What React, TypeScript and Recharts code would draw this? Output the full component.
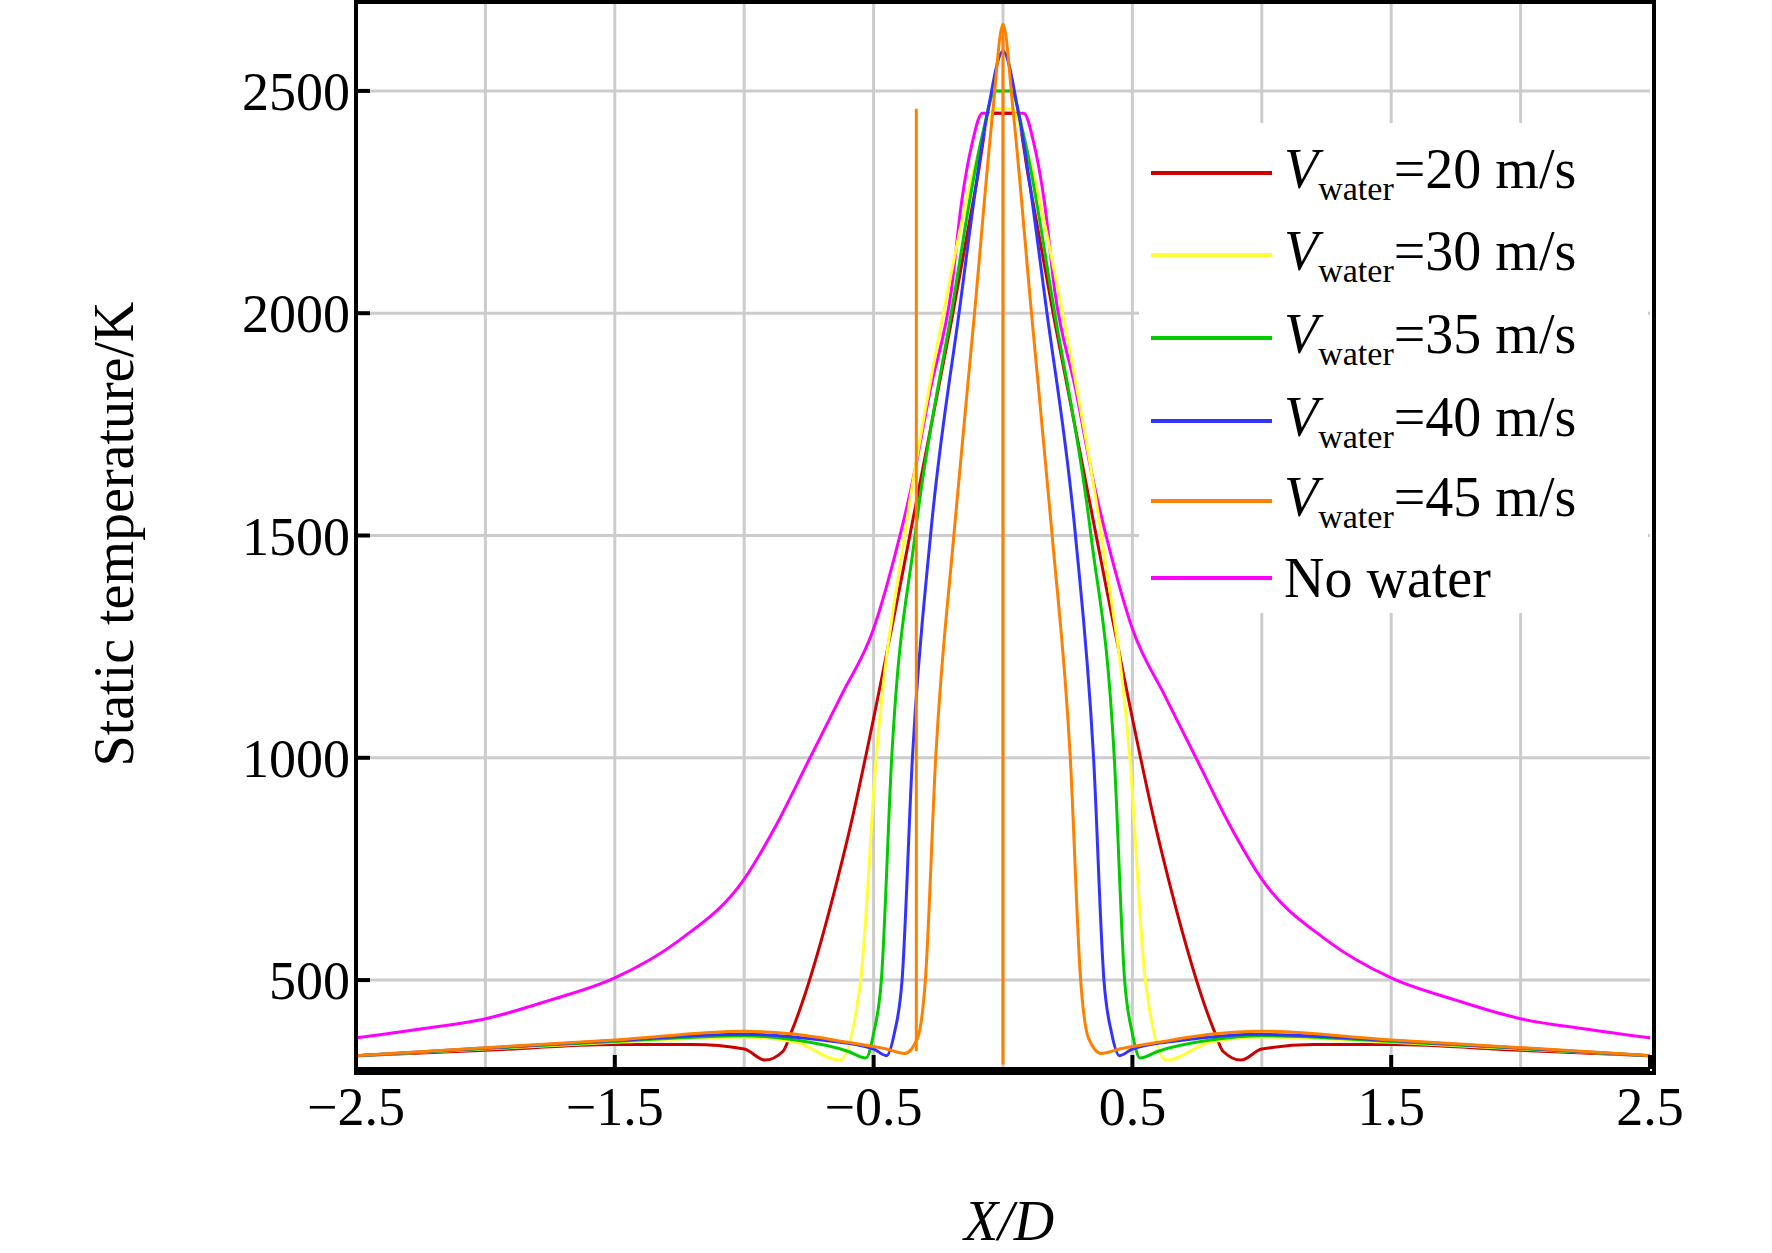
import { useEffect } from "react";
import { LineChart, Line, XAxis, YAxis, CartesianGrid } from "recharts";

const xTicks = [-2.5, -1.5, -0.5, 0.5, 1.5, 2.5];
const xGrid = [-2, -1.5, -1, -0.5, 0, 0.5, 1, 1.5, 2];
const yTicks = [500, 1000, 1500, 2000, 2500];

const redX = [-2.5, -2, -1.5, -1.2, -1, -0.92, -0.85, -0.82, -0.6, -0.4, -0.2, -0.1, -0.05, 0, 0.05, 0.1, 0.2, 0.4, 0.6, 0.82, 0.85, 0.92, 1, 1.2, 1.5, 2, 2.5];
const redY = [330, 342, 355, 355, 345, 320, 340, 380, 820, 1380, 1980, 2300, 2450, 2450, 2450, 2300, 1980, 1380, 820, 380, 340, 320, 345, 355, 355, 342, 330];

const yellowX = [-2.5, -2, -1.5, -1, -0.8, -0.63, -0.55, -0.49, -0.38, -0.23, -0.1, -0.03, 0, 0.03, 0.1, 0.23, 0.38, 0.49, 0.55, 0.63, 0.8, 1, 1.5, 2, 2.5];
const yellowY = [330, 345, 360, 372, 360, 320, 500, 1000, 1500, 2000, 2350, 2460, 2460, 2460, 2350, 2000, 1500, 1000, 500, 320, 360, 372, 360, 345, 330];

const greenX = [-2.5, -2, -1.5, -1, -0.8, -0.6, -0.53, -0.5, -0.47, -0.43, -0.34, -0.2, -0.08, -0.03, 0, 0.03, 0.08, 0.2, 0.34, 0.43, 0.47, 0.5, 0.53, 0.6, 0.8, 1, 1.5, 2, 2.5];
const greenY = [330, 346, 362, 375, 365, 340, 325, 380, 500, 1000, 1500, 2000, 2400, 2500, 2500, 2500, 2400, 2000, 1500, 1000, 500, 380, 325, 340, 365, 375, 362, 346, 330];

const blueX = [-2.5, -2, -1.5, -1, -0.7, -0.5, -0.45, -0.42, -0.39, -0.35, -0.28, -0.17, -0.06, 0, 0.06, 0.17, 0.28, 0.35, 0.39, 0.42, 0.45, 0.5, 0.7, 1, 1.5, 2, 2.5];
const blueY = [330, 347, 364, 378, 365, 345, 330, 380, 500, 1000, 1500, 2000, 2450, 2590, 2450, 2000, 1500, 1000, 500, 380, 330, 345, 365, 378, 364, 347, 330];

const orangeX = [-2.5, -2, -1.5, -1, -0.8, -0.6, -0.45, -0.38, -0.33, -0.3, -0.26, -0.19, -0.11, -0.04, 0, 0.04, 0.11, 0.19, 0.26, 0.3, 0.33, 0.38, 0.45, 0.6, 0.8, 1, 1.5, 2, 2.5];
const orangeY = [330, 348, 365, 385, 378, 360, 345, 335, 370, 500, 1000, 1500, 2000, 2450, 2650, 2450, 2000, 1500, 1000, 500, 370, 335, 345, 360, 378, 385, 365, 348, 330];

// stray vertical orange segments
const orangeBarX = [-0.335, -0.335];
const orangeBarY = [2460, 340];
const orangeSpikeX = [0, 0];
const orangeSpikeY = [2650, 310];

const magentaX = [-2.5, -2.25, -2, -1.75, -1.5, -1.25, -1, -0.875, -0.75, -0.625, -0.5, -0.42, -0.35, -0.28, -0.2, -0.16, -0.12, -0.08, 0, 0.08, 0.12, 0.16, 0.2, 0.28, 0.35, 0.42, 0.5, 0.625, 0.75, 0.875, 1, 1.25, 1.5, 1.75, 2, 2.25, 2.5];
const magentaY = [370, 390, 413, 455, 505, 590, 727, 850, 995, 1140, 1290, 1450, 1620, 1830, 2050, 2250, 2380, 2450, 2450, 2450, 2380, 2250, 2050, 1830, 1620, 1450, 1290, 1140, 995, 850, 727, 590, 505, 455, 413, 390, 370];

const zip = (xs: number[], ys: number[]) => xs.map((x, i) => ({ x, y: ys[i] }));

const series = [
  { name: "20", color: "#cc0000", data: zip(redX, redY) },
  { name: "30", color: "#ffff33", data: zip(yellowX, yellowY) },
  { name: "35", color: "#00cc00", data: zip(greenX, greenY) },
  { name: "40", color: "#3333ff", data: zip(blueX, blueY) },
  { name: "45", color: "#ff8000", data: zip(orangeX, orangeY) },
];

const legendItems = [
  { label: "20", color: "#cc0000" },
  { label: "30", color: "#ffff33" },
  { label: "35", color: "#00cc00" },
  { label: "40", color: "#3333ff" },
  { label: "45", color: "#ff8000" },
];

const font = "'Liberation Serif', 'Times New Roman', serif";

export default function App() {
  useEffect(() => {
    document.body.style.margin = "0";
  }, []);

  return (
    <div style={{ position: "relative", width: 1772, height: 1253, fontFamily: font, background: "#fff" }}>
      <LineChart width={1772} height={1253} margin={{ top: 2, right: 122, left: 0, bottom: 0 }}>
        <CartesianGrid stroke="#cccccc" strokeWidth={3} horizontalValues={yTicks} verticalValues={xGrid} />
        <XAxis
          type="number"
          dataKey="x"
          domain={[-2.5, 2.5]}
          ticks={xTicks}
          height={184}
          allowDataOverflow
          tickFormatter={(v: number) => (v < 0 ? "\u2212" + Math.abs(v) : String(v))}
          tick={{ fill: "#000", fontSize: 54, fontFamily: font, dy: 30 }}
          stroke="#000"
          strokeWidth={4}
          tickSize={-14}
        />
        <YAxis
          type="number"
          dataKey="y"
          domain={[300, 2700]}
          ticks={yTicks}
          width={356}
          allowDataOverflow
          tick={{ fill: "#000", fontSize: 54, fontFamily: font, dx: -18 }}
          stroke="#000"
          strokeWidth={4}
          tickSize={-14}
        />
        <Line type="monotone" data={zip(magentaX, magentaY)} dataKey="y" stroke="#ff00ff" strokeWidth={3} dot={false} isAnimationActive={false} />
        {series.map((s) => (
          <Line key={s.name} type="monotone" data={s.data} dataKey="y" stroke={s.color} strokeWidth={3} dot={false} isAnimationActive={false} />
        ))}
        <Line data={zip(orangeBarX, orangeBarY)} dataKey="y" stroke="#ff8000" strokeWidth={3} dot={false} isAnimationActive={false} />
        <Line data={zip(orangeSpikeX, orangeSpikeY)} dataKey="y" stroke="#ff8000" strokeWidth={3} dot={false} isAnimationActive={false} />
      </LineChart>

      {/* plot frame */}
      <div style={{ position: "absolute", left: 354, top: 0, width: 1294, height: 1067, border: "4px solid #000", pointerEvents: "none" }} />

      {/* legend */}
      <div style={{ position: "absolute", left: 1139, top: 123, width: 509, height: 490, background: "#fff" }}>
        {legendItems.map((it, i) => (
          <div key={it.label} style={{ position: "absolute", left: 12, top: 10 + [0, 82, 165, 248, 328][i], display: "flex", alignItems: "center", height: 80 }}>
            <div style={{ width: 121, height: 4, background: it.color }} />
            <span style={{ fontSize: 56, marginLeft: 12, whiteSpace: "nowrap" }}>
              <i>V</i>
              <sub style={{ fontSize: 34 }}>water</sub>=<span>{it.label} m/s</span>
            </span>
          </div>
        ))}
        <div style={{ position: "absolute", left: 12, top: 415, display: "flex", alignItems: "center", height: 80 }}>
          <div style={{ width: 121, height: 4, background: "#ff00ff" }} />
          <span style={{ fontSize: 56, marginLeft: 12 }}>No water</span>
        </div>
      </div>

      <div style={{ position: "absolute", left: 114, top: 534, transform: "translate(-50%, -50%) rotate(-90deg)", fontSize: 56, whiteSpace: "nowrap" }}>
        Static temperature/K
      </div>
      <div style={{ position: "absolute", left: 1009, top: 1221, transform: "translate(-50%, -50%)", fontSize: 56, fontStyle: "italic" }}>
        X/D
      </div>
    </div>
  );
}
